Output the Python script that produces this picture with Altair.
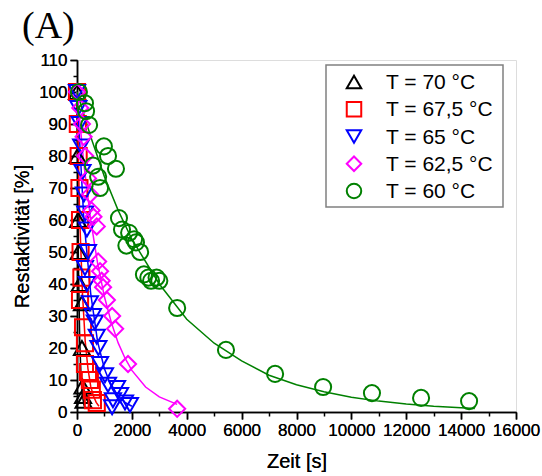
import altair as alt
import pandas as pd

series_labels = ["T = 70 °C", "T = 67,5 °C", "T = 65 °C", "T = 62,5 °C", "T = 60 °C"]
colors = ["#000000", "#FF0000", "#0000FF", "#FF00FF", "#008000"]
shapes = ["triangle-up", "square", "triangle-down", "diamond", "circle"]

# measured points (time [s], residual activity [%])
t70_x = [0, 20, 40, 60, 100, 180, 180, 200, 220, 240]
t70_y = [100, 80, 60, 50, 40, 34, 20, 8, 5, 3.5]

t675_x = [0, 30, 60, 90, 110, 130, 160, 110, 220, 290, 290, 400, 470, 540, 580, 720]
t675_y = [100, 90, 80, 70, 60, 50, 42, 35, 26.5, 21.5, 15, 12.5, 10, 7, 3.7, 2.8]

t65_x = [0, 50, 100, 150, 200, 250, 300, 360, 400, 290, 360, 470, 580, 650, 720, 780, 840,
         1020, 1130, 1460, 1570, 1310, 1750, 1930, 1280]
t65_y = [100, 95, 90, 83, 75, 68, 62, 57, 50, 45, 40, 34, 30, 28, 23.5, 20, 15,
         11.5, 8.5, 7.5, 5.3, 3.7, 3, 2.2, 1.5]

t625_x = [0, 120, 180, 240, 300, 400, 480, 530, 600, 720, 770, 840, 900, 950, 1090, 1280,
          1390, 1860, 3650]
t625_y = [100, 95, 90, 86, 80, 73, 68, 63, 61, 58, 47, 44, 41, 39, 35, 30, 26, 15, 1]

t60_x = [70, 290, 330, 440, 580, 770, 840, 980, 1130, 1420, 1530, 1640, 1900, 1800, 2080,
         2150, 2300, 2440, 2600, 2700, 2900, 3000, 3650, 5430, 7220, 8970, 10750, 12540, 14290]
t60_y = [100, 96.5, 94, 89.7, 77, 73.5, 70, 83, 80, 76, 60.6, 57, 56, 52, 54,
         53, 50, 43, 42, 41, 42, 41, 32.5, 19.4, 11.9, 7.8, 5.9, 4.4, 3.4]

# fitted curves
f70_x = [0, 50, 100, 150, 200, 250, 300]
f70_y = [100, 47, 22, 10.5, 5, 2.3, 1]
f675_x = [0, 100, 200, 300, 400, 500, 600, 700, 800]
f675_y = [100, 60, 37, 22, 13.5, 8, 5, 3, 1.8]
f65_x = [0, 250, 500, 750, 1000, 1250, 1500, 1750, 2000]
f65_y = [100, 60, 37, 22, 13.5, 8, 5, 3, 1.8]
f625_x = [0, 250, 500, 750, 1000, 1250, 1500, 1750, 2000, 2500, 3000, 3650]
f625_y = [100, 77.5, 60, 46.5, 36, 28, 21.6, 16.8, 13, 7.8, 4.7, 2.4]
f60_x = [0, 500, 1000, 1500, 2000, 3000, 4000, 5000, 6000, 7000, 8000, 9000, 10000, 11000,
         12000, 13000, 14000, 14500]
f60_y = [100, 86, 73.5, 63, 54, 40, 29, 21.5, 16, 11.5, 8.5, 6.3, 4.6, 3.4, 2.5, 1.8, 1.3, 1.1]

x_major = list(range(0, 16001, 2000))
x_minor = list(range(1000, 16000, 2000))
y_major = list(range(0, 111, 10))
y_minor = list(range(5, 110, 10))

pts_sets = [(t70_x, t70_y), (t675_x, t675_y), (t65_x, t65_y), (t625_x, t625_y), (t60_x, t60_y)]
fit_sets = [(f70_x, f70_y), (f675_x, f675_y), (f65_x, f65_y), (f625_x, f625_y), (f60_x, f60_y)]

rows = []
for lab, (xs, ys) in zip(series_labels, pts_sets):
    for a, b in zip(xs, ys):
        rows.append({"t": a, "a": b, "series": lab})
pts = pd.DataFrame(rows)

rows = []
for lab, (xs, ys) in zip(series_labels, fit_sets):
    for a, b in zip(xs, ys):
        rows.append({"t": a, "a": b, "series": lab})
fits = pd.DataFrame(rows)

leg_df = pd.DataFrame({"series": series_labels})

FONT = "Liberation Sans"
common = dict(grid=False, labelFontSize=17, titleFontSize=20, labelFont=FONT, titleFont=FONT,
              titleFontWeight="normal", labelColor="black", titleColor="black",
              domainColor="black", tickColor="black", domainWidth=1.5, tickWidth=1.5,
              labelPadding=3, labelFlush=False, labelOverlap=False)

x_axis = alt.Axis(values=x_major, format="d", tickSize=7, title="Zeit [s]",
                  orient="bottom", titlePadding=13, **common)
y_axis = alt.Axis(values=y_major, tickSize=7, title="Restaktivität [%]",
                  orient="left", titlePadding=6, **common)
x_axis_minor = alt.Axis(values=x_minor, tickSize=4, labels=False, domain=False, title=None,
                        orient="bottom", grid=False, tickColor="black", tickWidth=1.5)
y_axis_minor = alt.Axis(values=y_minor, tickSize=4, labels=False, domain=False, title=None,
                        orient="left", grid=False, tickColor="black", tickWidth=1.5)

xscale = alt.Scale(domain=[0, 16000], nice=False)
yscale = alt.Scale(domain=[0, 110], nice=False)

color_scale = alt.Scale(domain=series_labels, range=colors)
shape_scale = alt.Scale(domain=series_labels, range=shapes)
leg_y = alt.Y("series:N", scale=alt.Scale(domain=series_labels, range=[22, 131], padding=0),
              axis=None)

minor = alt.Chart(fits).mark_point(opacity=0).encode(
    x=alt.X("t:Q", scale=xscale, axis=x_axis_minor),
    y=alt.Y("a:Q", scale=yscale, axis=y_axis_minor),
)

lines = alt.Chart(fits).mark_line(strokeWidth=1.5).encode(
    x=alt.X("t:Q", scale=xscale, axis=x_axis),
    y=alt.Y("a:Q", scale=yscale, axis=y_axis),
    stroke=alt.Stroke("series:N", scale=color_scale, legend=None),
    detail="series:N",
)

points = alt.Chart(pts).mark_point(filled=False, size=260, strokeWidth=2, opacity=1).encode(
    x=alt.X("t:Q", scale=xscale, axis=x_axis),
    y=alt.Y("a:Q", scale=yscale, axis=y_axis),
    color=alt.Color("series:N", scale=color_scale, legend=None),
    shape=alt.Shape("series:N", scale=shape_scale, legend=None),
)

legend_box = alt.Chart(leg_df.head(1)).mark_rect(
    fill="white", stroke="#808080", strokeWidth=1.5
).encode(x=alt.value(249), x2=alt.value(426), y=alt.value(5), y2=alt.value(147))

legend_sym = alt.Chart(leg_df).mark_point(filled=False, size=210, strokeWidth=2, opacity=1).encode(
    x=alt.value(277), y=leg_y,
    color=alt.Color("series:N", scale=color_scale, legend=None),
    shape=alt.Shape("series:N", scale=shape_scale, legend=None),
)

legend_txt = alt.Chart(leg_df).mark_text(
    font=FONT, fontSize=21, align="left", baseline="middle", color="black", dy=1
).encode(x=alt.value(309), y=leg_y, text="series:N")

panel_label = alt.Chart(pd.DataFrame({"label": ["(A)"]})).mark_text(
    font="Liberation Serif", fontSize=38, align="left", baseline="alphabetic", color="black"
).encode(text="label:N", x=alt.value(-55), y=alt.value(-22))

chart = alt.layer(minor, lines, points, legend_box, legend_sym, legend_txt, panel_label).resolve_axis(
    x="independent", y="independent"
).resolve_scale(y="independent").properties(
    width=439, height=352,
    autosize=alt.AutoSizeParams(type="none"),
    padding={"left": 77, "top": 60, "right": 26, "bottom": 64},
).configure_view(stroke=None).configure(background="white")

chart.save("out.html", embed_options={"renderer": "svg", "actions": False})
